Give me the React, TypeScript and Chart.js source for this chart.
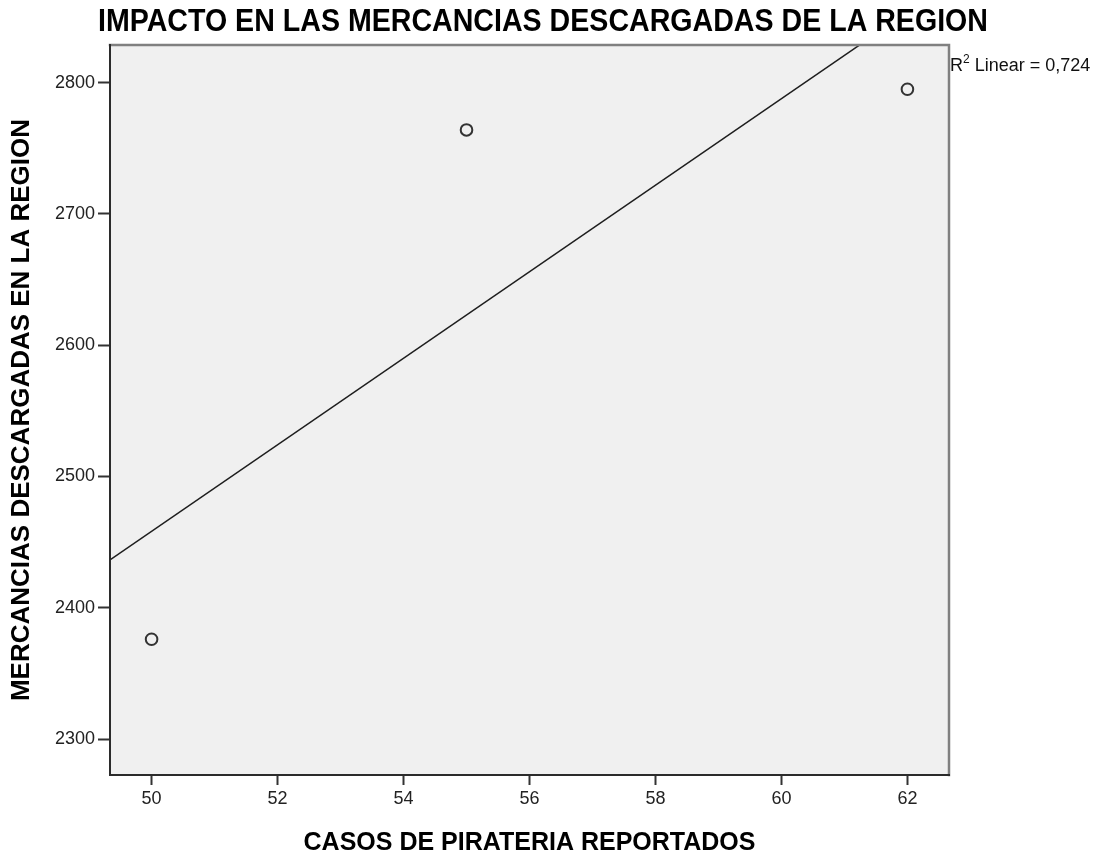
import React, { useEffect, useRef } from "react";
import { Chart, registerables } from "chart.js";

Chart.register(...registerables);

// Casos de piratería reportados (x) y mercancías descargadas (y)
const casosPirateria: number[] = [50, 55, 62];
const mercancias: number[] = [2376, 2764, 2795];

const xTicks: number[] = [50, 52, 54, 56, 58, 60, 62];
const yTicks: number[] = [2300, 2400, 2500, 2600, 2700, 2800];

const xRange: [number, number] = [49.34, 62.66];
const yRange: [number, number] = [2272.6, 2828.7];

const titulo = "IMPACTO EN LAS MERCANCIAS DESCARGADAS DE LA REGION";
const tituloX = "CASOS DE PIRATERIA REPORTADOS";
const tituloY = "MERCANCIAS DESCARGADAS EN LA REGION";
const r2Texto = "0,724";

// Ajuste lineal por mínimos cuadrados
function ajusteLineal(xs: number[], ys: number[]) {
  const n = xs.length;
  const mx = xs.reduce((a, b) => a + b, 0) / n;
  const my = ys.reduce((a, b) => a + b, 0) / n;
  let sxx = 0;
  let sxy = 0;
  for (let i = 0; i < n; i++) {
    sxx += (xs[i] - mx) * (xs[i] - mx);
    sxy += (xs[i] - mx) * (ys[i] - my);
  }
  const b = sxy / sxx;
  const a = my - b * mx;
  return (x: number) => a + b * x;
}

const FONT = '"Liberation Sans", Arial, sans-serif';

const textosPlugin = {
  id: "textos",
  beforeDraw(chart: any) {
    const { ctx, chartArea } = chart;
    ctx.save();
    ctx.fillStyle = "#f0f0f0";
    ctx.fillRect(
      chartArea.left,
      chartArea.top,
      chartArea.right - chartArea.left,
      chartArea.bottom - chartArea.top
    );
    ctx.restore();
  },
  afterDraw(chart: any) {
    const { ctx, chartArea } = chart;
    const { left, top, right, bottom } = chartArea;
    ctx.save();

    // marco del área de datos
    ctx.lineCap = "square";
    ctx.strokeStyle = "#808080";
    ctx.lineWidth = 2.5;
    ctx.beginPath();
    ctx.moveTo(left, top);
    ctx.lineTo(right, top);
    ctx.lineTo(right, bottom);
    ctx.stroke();
    ctx.strokeStyle = "#2b2b2b";
    ctx.lineWidth = 2;
    ctx.beginPath();
    ctx.moveTo(left, top);
    ctx.lineTo(left, bottom);
    ctx.lineTo(right, bottom);
    ctx.stroke();

    // título (tipografía estrecha)
    ctx.fillStyle = "#000";
    ctx.textAlign = "center";
    ctx.textBaseline = "middle";
    ctx.font = `bold 31px ${FONT}`;
    const ancho = ctx.measureText(titulo).width;
    ctx.save();
    ctx.translate(543, 22);
    ctx.scale(890 / ancho, 1);
    ctx.fillText(titulo, 0, 0);
    ctx.restore();

    // título eje X
    ctx.font = `bold 25px ${FONT}`;
    ctx.fillText(tituloX, (left + right) / 2, 843);

    // título eje Y
    ctx.save();
    ctx.translate(22, (top + bottom) / 2);
    ctx.rotate(-Math.PI / 2);
    ctx.font = `bold 26px ${FONT}`;
    ctx.fillText(tituloY, 0, 0);
    ctx.restore();

    // etiqueta R²
    ctx.textAlign = "left";
    ctx.textBaseline = "alphabetic";
    ctx.fillStyle = "#111";
    ctx.font = `18px ${FONT}`;
    let x = right + 1;
    ctx.fillText("R", x, 71);
    x += ctx.measureText("R").width;
    ctx.font = `12px ${FONT}`;
    ctx.fillText("2", x, 63);
    x += ctx.measureText("2").width;
    ctx.font = `18px ${FONT}`;
    ctx.fillText(` Linear = ${r2Texto}`, x, 71);

    ctx.restore();
  },
};

export default function App() {
  const canvasRef = useRef<HTMLCanvasElement | null>(null);

  useEffect(() => {
    if (!canvasRef.current) return;
    const recta = ajusteLineal(casosPirateria, mercancias);
    const puntos = casosPirateria.map((x, i) => ({ x, y: mercancias[i] }));
    const lineaAjuste = xRange.map((x) => ({ x, y: recta(x) }));

    const chart = new Chart(canvasRef.current, {
      type: "scatter",
      data: {
        datasets: [
          {
            type: "line",
            data: lineaAjuste,
            borderColor: "#1e1e1e",
            borderWidth: 1.5,
            pointRadius: 0,
            fill: false,
          },
          {
            data: puntos,
            pointRadius: 5.8,
            pointBorderWidth: 2,
            borderColor: "#333",
            backgroundColor: "rgba(0,0,0,0)",
          },
        ],
      },
      options: {
        animation: false,
        responsive: false,
        layout: { padding: { top: 45, right: 158, left: 0, bottom: 0 } },
        plugins: {
          legend: { display: false },
          title: { display: false },
          tooltip: { enabled: false },
        },
        scales: {
          x: {
            type: "linear",
            min: xRange[0],
            max: xRange[1],
            afterFit: (s: any) => {
              s.height = 82;
            },
            afterBuildTicks: (s: any) => {
              s.ticks = xTicks.map((v) => ({ value: v }));
            },
            border: { display: false },
            grid: {
              display: true,
              drawOnChartArea: false,
              drawTicks: true,
              tickLength: 10,
              tickColor: "#333",
              tickWidth: 2,
            },
            ticks: {
              color: "#222",
              padding: 3,
              font: { family: FONT, size: 18 },
              callback: (v: any) => String(v),
            },
          },
          y: {
            type: "linear",
            min: yRange[0],
            max: yRange[1],
            afterFit: (s: any) => {
              s.width = 110;
            },
            afterBuildTicks: (s: any) => {
              s.ticks = yTicks.map((v) => ({ value: v }));
            },
            border: { display: false },
            grid: {
              display: true,
              drawOnChartArea: false,
              drawTicks: true,
              tickLength: 12,
              tickColor: "#333",
              tickWidth: 2,
            },
            ticks: {
              color: "#222",
              padding: 3,
              font: { family: FONT, size: 18 },
              callback: (v: any) => String(v),
            },
          },
        },
      },
      plugins: [textosPlugin],
    } as any);

    return () => chart.destroy();
  }, []);

  return (
    <div style={{ position: "absolute", left: 0, top: 0, width: 1107, height: 857, background: "#fff" }}>
      <canvas ref={canvasRef} width={1107} height={857} />
    </div>
  );
}
